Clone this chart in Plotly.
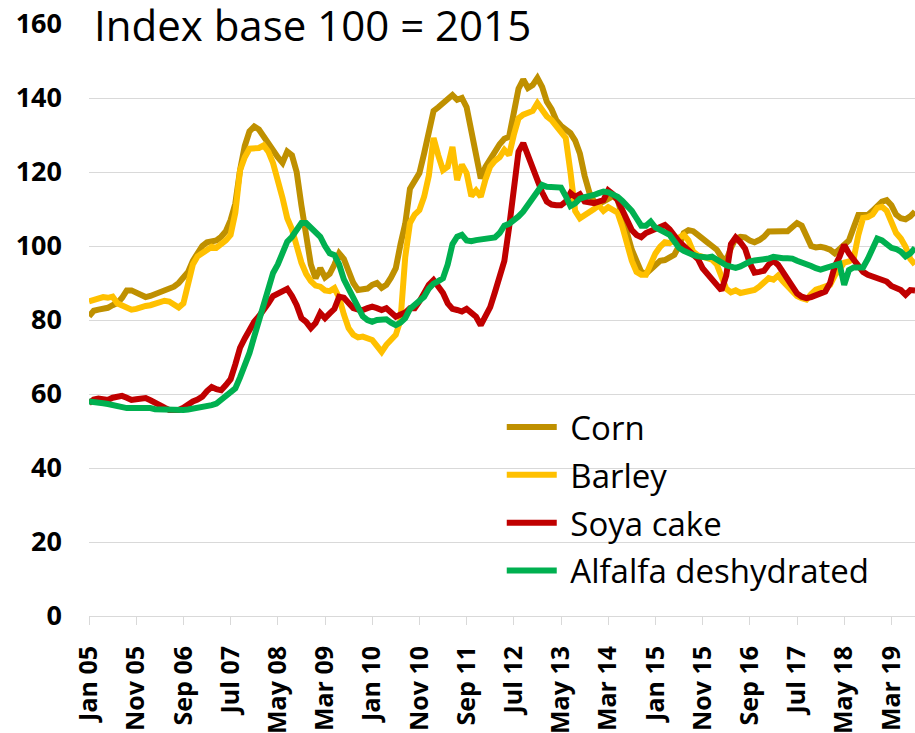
import pandas as pd
import plotly.graph_objects as go

MONTHS = [d.strftime("%b %y") for d in pd.date_range("2005-01-01", periods=176, freq="MS")]

TICK_LABELS = ["Jan 05", "Nov 05", "Sep 06", "Jul 07", "May 08", "Mar 09", "Jan 10", "Nov 10",
               "Sep 11", "Jul 12", "May 13", "Mar 14", "Jan 15", "Nov 15", "Sep 16", "Jul 17",
               "May 18", "Mar 19"]

CORN = [
    81, 82.5, 82.8, 83, 83.3, 84, 84.6, 86, 88, 88,
    87.3, 86.8, 86.2, 86.5, 87, 87.5, 88, 88.5, 89, 90,
    91.5, 93, 96, 98, 100, 101, 101.4, 101.5, 102.5, 104,
    107, 111.5, 120.5, 127, 131, 132.3, 131.5, 129.5, 127.5, 126,
    124, 122.5, 125.5, 124.5, 120, 111, 101.6, 95, 91.3, 94,
    91.5, 92.5, 95, 98, 96.5, 93.5, 90, 88.1, 88.1, 88.5,
    89.5, 90, 88.7, 89.5, 91.5, 94, 100.5, 106, 115.5, 118,
    119.7, 125, 130, 136.5, 137.5, 138.6, 139.5, 140.8, 139.5, 140,
    137.5, 131.5, 124, 118.3, 121.4, 123.5, 125, 127.5, 129, 129.5,
    136, 142.5, 145, 142.7, 143.5, 145.4, 143, 139, 137, 134,
    132.5, 131.4, 130.5, 128.5, 125, 119, 114.5, 112, 111.5, 112,
    113, 113.5, 112.5, 108, 103.5, 99, 96, 93, 92.5, 93.5,
    95, 96, 96.2, 97, 97.6, 100, 103.5, 104.3, 104, 103,
    102.2, 101, 100, 99, 97, 96, 99.5, 102, 102.5, 102.3,
    101.5, 101, 101.6, 102.5, 103.9, 104, 104.3, 104, 104, 105,
    106.2, 105.5, 103, 100, 99.6, 99.8, 99.5, 99, 98, 99.2,
    100.3, 101.5, 105, 108.4, 108.4, 108.4, 109.5, 110.8, 112, 112.4,
    111, 108.5, 107.5, 107.2, 108, 109.3,
]

BARLEY = [
    85, 85.4, 85.8, 86.2, 86, 86.3, 84.5, 83.8, 83.3, 82.8,
    83, 83.6, 83.8, 84, 84.3, 84.6, 85.2, 85, 84, 83.4,
    84.5, 90, 95, 97.2, 98.2, 99.2, 99.8, 99.5, 100.3, 101.5,
    103, 109, 120.5, 124, 126.3, 126.5, 126.5, 127.2, 125.5, 122.4,
    118, 113, 107.5, 104.5, 100, 95.5, 92.5, 90.5, 89.3, 89,
    88, 87.8, 88.6, 86, 81.5, 77.8, 76, 75.3, 75.5, 75,
    74.6, 73, 71.4, 73.3, 74.5, 76, 80, 97, 106.2, 108.5,
    109.7, 113.3, 119, 129.2, 124.5, 120.5, 121.4, 126.8, 117.8, 122,
    119.7, 113.5, 115, 113.3, 118, 121.5, 123, 124, 126, 124.6,
    130, 134.5, 135.5, 136, 136.5, 138.6, 136.5, 135, 134, 132.5,
    131, 129.2, 120, 109.5, 107.5, 108.2, 109, 110, 111, 109.5,
    110.5, 109.5, 109, 105.2, 100, 96, 93, 92.2, 92.2, 95,
    98, 99.8, 101, 100.8, 101.5, 102.2, 103, 101.5, 98.5, 97.5,
    97.1, 96.8, 96.3, 95, 92, 88.5, 87.5, 88, 87.3, 87.7,
    88, 88.1, 89, 90, 91.3, 90.9, 92, 90.5, 89, 87.7,
    86.5, 85.9, 85.5, 87, 88.2, 88.6, 89, 89.5, 92, 94,
    95.5, 95.8, 96.5, 103, 107.6, 107.8, 108.5, 110.3, 110.6, 109.5,
    106, 103.5, 102, 99.8, 96.5, 95,
]

SOYA = [
    57.5, 58.5, 58.8, 58.5, 58.4, 59, 59.3, 59.5, 59, 58.4,
    58.6, 58.8, 58.9, 58.3, 57.8, 57, 56.3, 55.7, 55.7, 55.7,
    56.3, 57.2, 58, 58.5, 59.3, 60.8, 61.9, 61.3, 61, 62.4,
    64, 68, 72.5, 75, 77.3, 79.5, 81, 82.5, 84.5, 86.5,
    87.2, 87.7, 88.4, 86.5, 84, 80.5, 79.5, 77.8, 79.2, 81.9,
    80.5, 81.8, 83, 86.3, 86, 84.6, 83.2, 82.8, 82.7, 83.2,
    83.6, 83.2, 82.7, 83.2, 82, 80.9, 81.5, 82, 83.2, 83.2,
    85, 87.3, 89.5, 90.8, 89, 87.3, 84.5, 83, 82.7, 82.3,
    83, 82, 80.9, 78.6, 81, 83.5, 87.5, 91.5, 96, 105,
    116, 125.5, 127.8, 124.5, 120.5, 118.3, 114.5, 112, 111.2, 111,
    111, 112, 114.3, 113.3, 114, 112, 111.6, 111.6, 112, 112.4,
    115, 114, 112.4, 109.5, 106.5, 104.3, 103, 102.4, 103.5, 104,
    104.3, 105, 105.7, 104.5, 102.5, 101.2, 100, 98.8, 98, 96.5,
    94, 92.3, 90.8, 89.5, 88, 92, 100.5, 102.3, 101, 99.3,
    95.4, 92.8, 93, 93.3, 95, 96, 94.9, 93, 90.5, 88.6,
    87.2, 86.3, 85.9, 86.2, 86.6, 87, 87.7, 90, 94.5, 97.1,
    100.3, 98, 96.2, 94.9, 93, 92.2, 91.8, 91, 90.6, 90.4,
    89.2, 88.6, 88.1, 86.8, 88.1, 88,
]

ALFALFA = [
    58, 57.7, 57.8, 57.5, 57.3, 57, 56.6, 56.3, 56.2, 56.2,
    56.2, 56.4, 56.6, 56.2, 55.9, 55.8, 55.7, 55.6, 55.5, 55.6,
    55.7, 55.8, 56, 56.2, 56.3, 56.6, 57, 57.4, 58.5, 59.3,
    60.3, 61.5, 64.5, 67.7, 71.1, 75.5, 79.5, 83.5, 87.5, 92.7,
    95, 98.5, 101.2, 102.5, 104.5, 106.2, 106.2, 105, 103.5, 102.5,
    100, 98, 97.5, 95, 91, 88.5, 85.5, 83, 81, 80,
    79.5, 80, 80.3, 80.2, 79.3, 78.6, 79.3, 80.5, 83, 84,
    85, 86.3, 88.5, 89.8, 90.5, 91.3, 95, 100.5, 102.5, 103,
    101.5, 101.3, 101.6, 101.8, 102.2, 102, 102.3, 103.5, 105.5, 106,
    106.8, 108, 109.3, 111, 113.2, 114.5, 116.5, 116, 115.8, 116,
    115.8, 113.5, 110.8, 111.5, 112.8, 113.2, 113.3, 113.8, 114.3, 114.7,
    114.5, 114, 113.3, 112.2, 111, 109.5, 107.5, 105.5, 105.5, 106.6,
    105, 104.3, 104, 103, 101.3, 99.5, 98.7, 98, 97.6, 97.2,
    96.9, 96.9, 97.1, 96.3, 95.3, 94.8, 94.4, 94.1, 94.5, 95.2,
    95.8, 96.1, 96.2, 96.2, 96.6, 97.1, 96.8, 96.7, 96.7, 96.6,
    96, 95.6, 95.3, 94.6, 94, 93.6, 94, 94.3, 95, 95.2,
    89.5, 93.5, 94.2, 94.3, 94.2, 96.5, 99.5, 102, 101.5, 100.3,
    99.5, 99.2, 98.5, 97.2, 98, 99.5,
]

SERIES = [
    ("Corn", CORN, "#BF9000"),
    ("Barley", BARLEY, "#FFC000"),
    ("Soya cake", SOYA, "#C00000"),
    ("Alfalfa deshydrated", ALFALFA, "#00B050"),
]

fig = go.Figure()
for i, (name, vals, color) in enumerate(SERIES):
    fig.add_trace(go.Scatter(
        x=MONTHS, y=vals, name="\u00a0" + name, mode="lines",
        line=dict(color=color, width=6),
        legendgroup=str(i),
    ))

grid = "#D9D9D9"
fig.update_layout(
    width=915, height=733,
    margin=dict(l=89, r=0, t=24, b=117, autoexpand=False),
    plot_bgcolor="white", paper_bgcolor="white",
    font=dict(family="Open Sans", color="#000000"),
    showlegend=True,
    legend=dict(
        x=0.4997, y=0.3666, xanchor="left", yanchor="top",
        font=dict(size=33, family="Open Sans", color="#000000"),
        bgcolor="rgba(0,0,0,0)", itemwidth=50,
        traceorder="grouped", tracegroupgap=2,
    ),
    xaxis=dict(
        type="category", categoryorder="array", categoryarray=MONTHS,
        range=[0, len(MONTHS) - 1], automargin=False,
        tickmode="array", tickvals=TICK_LABELS, ticktext=TICK_LABELS,
        tickangle=-90, ticks="outside", ticklen=8, tickcolor=grid,
        showline=True, linecolor=grid, linewidth=1,
        showgrid=False, ticklabelstandoff=11,
        tickfont=dict(size=25, family="Open Sans", color="#000000", weight="bold"),
    ),
    yaxis=dict(
        range=[0, 160], tickmode="linear", tick0=0, dtick=20, automargin=False,
        showgrid=True, gridcolor=grid, gridwidth=1,
        zeroline=False, showline=False, ticks="",
        ticklabelstandoff=26,
        tickfont=dict(size=27, family="Open Sans", color="#000000", weight="bold"),
    ),
)

fig.add_annotation(
    text="Index base 100 = 2015", xref="paper", yref="paper",
    x=0, y=1, xanchor="left", yanchor="middle", yshift=0,
    height=40, valign="middle",
    showarrow=False, bgcolor="white", borderpad=4,
    font=dict(size=42, family="Open Sans", color="#000000"),
)

fig.write_html("out.html", config={"displayModeBar": False},
               post_script="document.body.style.margin='0px';")
